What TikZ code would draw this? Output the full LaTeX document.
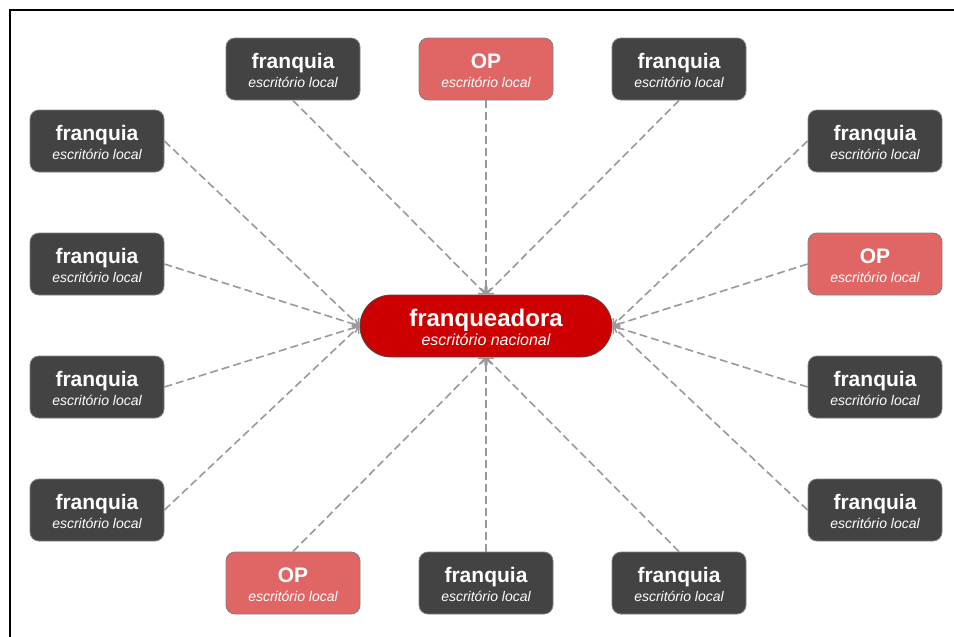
\documentclass[tikz,border=0pt]{standalone}
\usepackage{fontspec}
\setmainfont{Liberation Sans}
\usetikzlibrary{arrows.meta}

\definecolor{escuro}{HTML}{434343}
\definecolor{rosado}{HTML}{E06666}
\definecolor{vermelho}{HTML}{CC0000}
\definecolor{traco}{HTML}{999999}

\newcommand{\caixa}[2]{{\rule{0pt}{19pt}\bfseries\fontsize{21}{19}\selectfont #1}\\{\itshape\fontsize{14}{19}\selectfont #2}}

\begin{document}
\begin{tikzpicture}[x=1pt,y=-1pt,
	loja/.style={rectangle,rounded corners=9pt,draw=gray,line width=0.8pt,text=white,align=center,minimum width=134pt,minimum height=62pt,inner sep=0pt,font=\fontsize{14}{19}\selectfont},
	franq/.style={loja,fill=escuro},
	op/.style={loja,fill=rosado},
	sede/.style={rectangle,rounded corners=31pt,draw=gray!60!black,line width=0.8pt,fill=vermelho,text=white,align=center,minimum width=252pt,minimum height=62pt,inner sep=0pt,font=\fontsize{16}{19}\selectfont},
	link/.style={draw=traco,line width=1.6pt,dash pattern=on 8pt off 4pt,-{Straight Barb[length=5pt,width=10pt]}}]
	\useasboundingbox (0,0) rectangle (954,637);
	\draw [line width=2pt] (10,637) -- (10,10) -- (954,10);

	% centro
	\node [sede] (centro) at (486,326) {{\rule{0pt}{21pt}\bfseries\fontsize{24}{19}\selectfont franqueadora}\\{\itshape\fontsize{16}{19}\selectfont escritório nacional}};

	% linha de cima
	\node [franq] (cima1) at (293,69) {\caixa{franquia}{escritório local}};
	\node [op] (cima2) at (486,69) {\caixa{OP}{escritório local}};
	\node [franq] (cima3) at (679,69) {\caixa{franquia}{escritório local}};

	% coluna esquerda
	\node [franq] (esq1) at (97,141) {\caixa{franquia}{escritório local}};
	\node [franq] (esq2) at (97,264) {\caixa{franquia}{escritório local}};
	\node [franq] (esq3) at (97,387) {\caixa{franquia}{escritório local}};
	\node [franq] (esq4) at (97,510) {\caixa{franquia}{escritório local}};

	% coluna direita
	\node [franq] (dir1) at (875,141) {\caixa{franquia}{escritório local}};
	\node [op] (dir2) at (875,264) {\caixa{OP}{escritório local}};
	\node [franq] (dir3) at (875,387) {\caixa{franquia}{escritório local}};
	\node [franq] (dir4) at (875,510) {\caixa{franquia}{escritório local}};

	% linha de baixo
	\node [op] (baixo1) at (293,583) {\caixa{OP}{escritório local}};
	\node [franq] (baixo2) at (486,583) {\caixa{franquia}{escritório local}};
	\node [franq] (baixo3) at (679,583) {\caixa{franquia}{escritório local}};

	% ligacoes
	\foreach \n in {cima1,cima2,cima3}
		\draw [link] (\n.south) -- (centro.north);
	\foreach \n in {baixo1,baixo2,baixo3}
		\draw [link] (\n.north) -- (centro.south);
	\foreach \n in {esq1,esq2,esq3,esq4}
		\draw [link] (\n.east) -- (centro.west);
	\foreach \n in {dir1,dir2,dir3,dir4}
		\draw [link] (\n.west) -- (centro.east);
\end{tikzpicture}
\end{document}
